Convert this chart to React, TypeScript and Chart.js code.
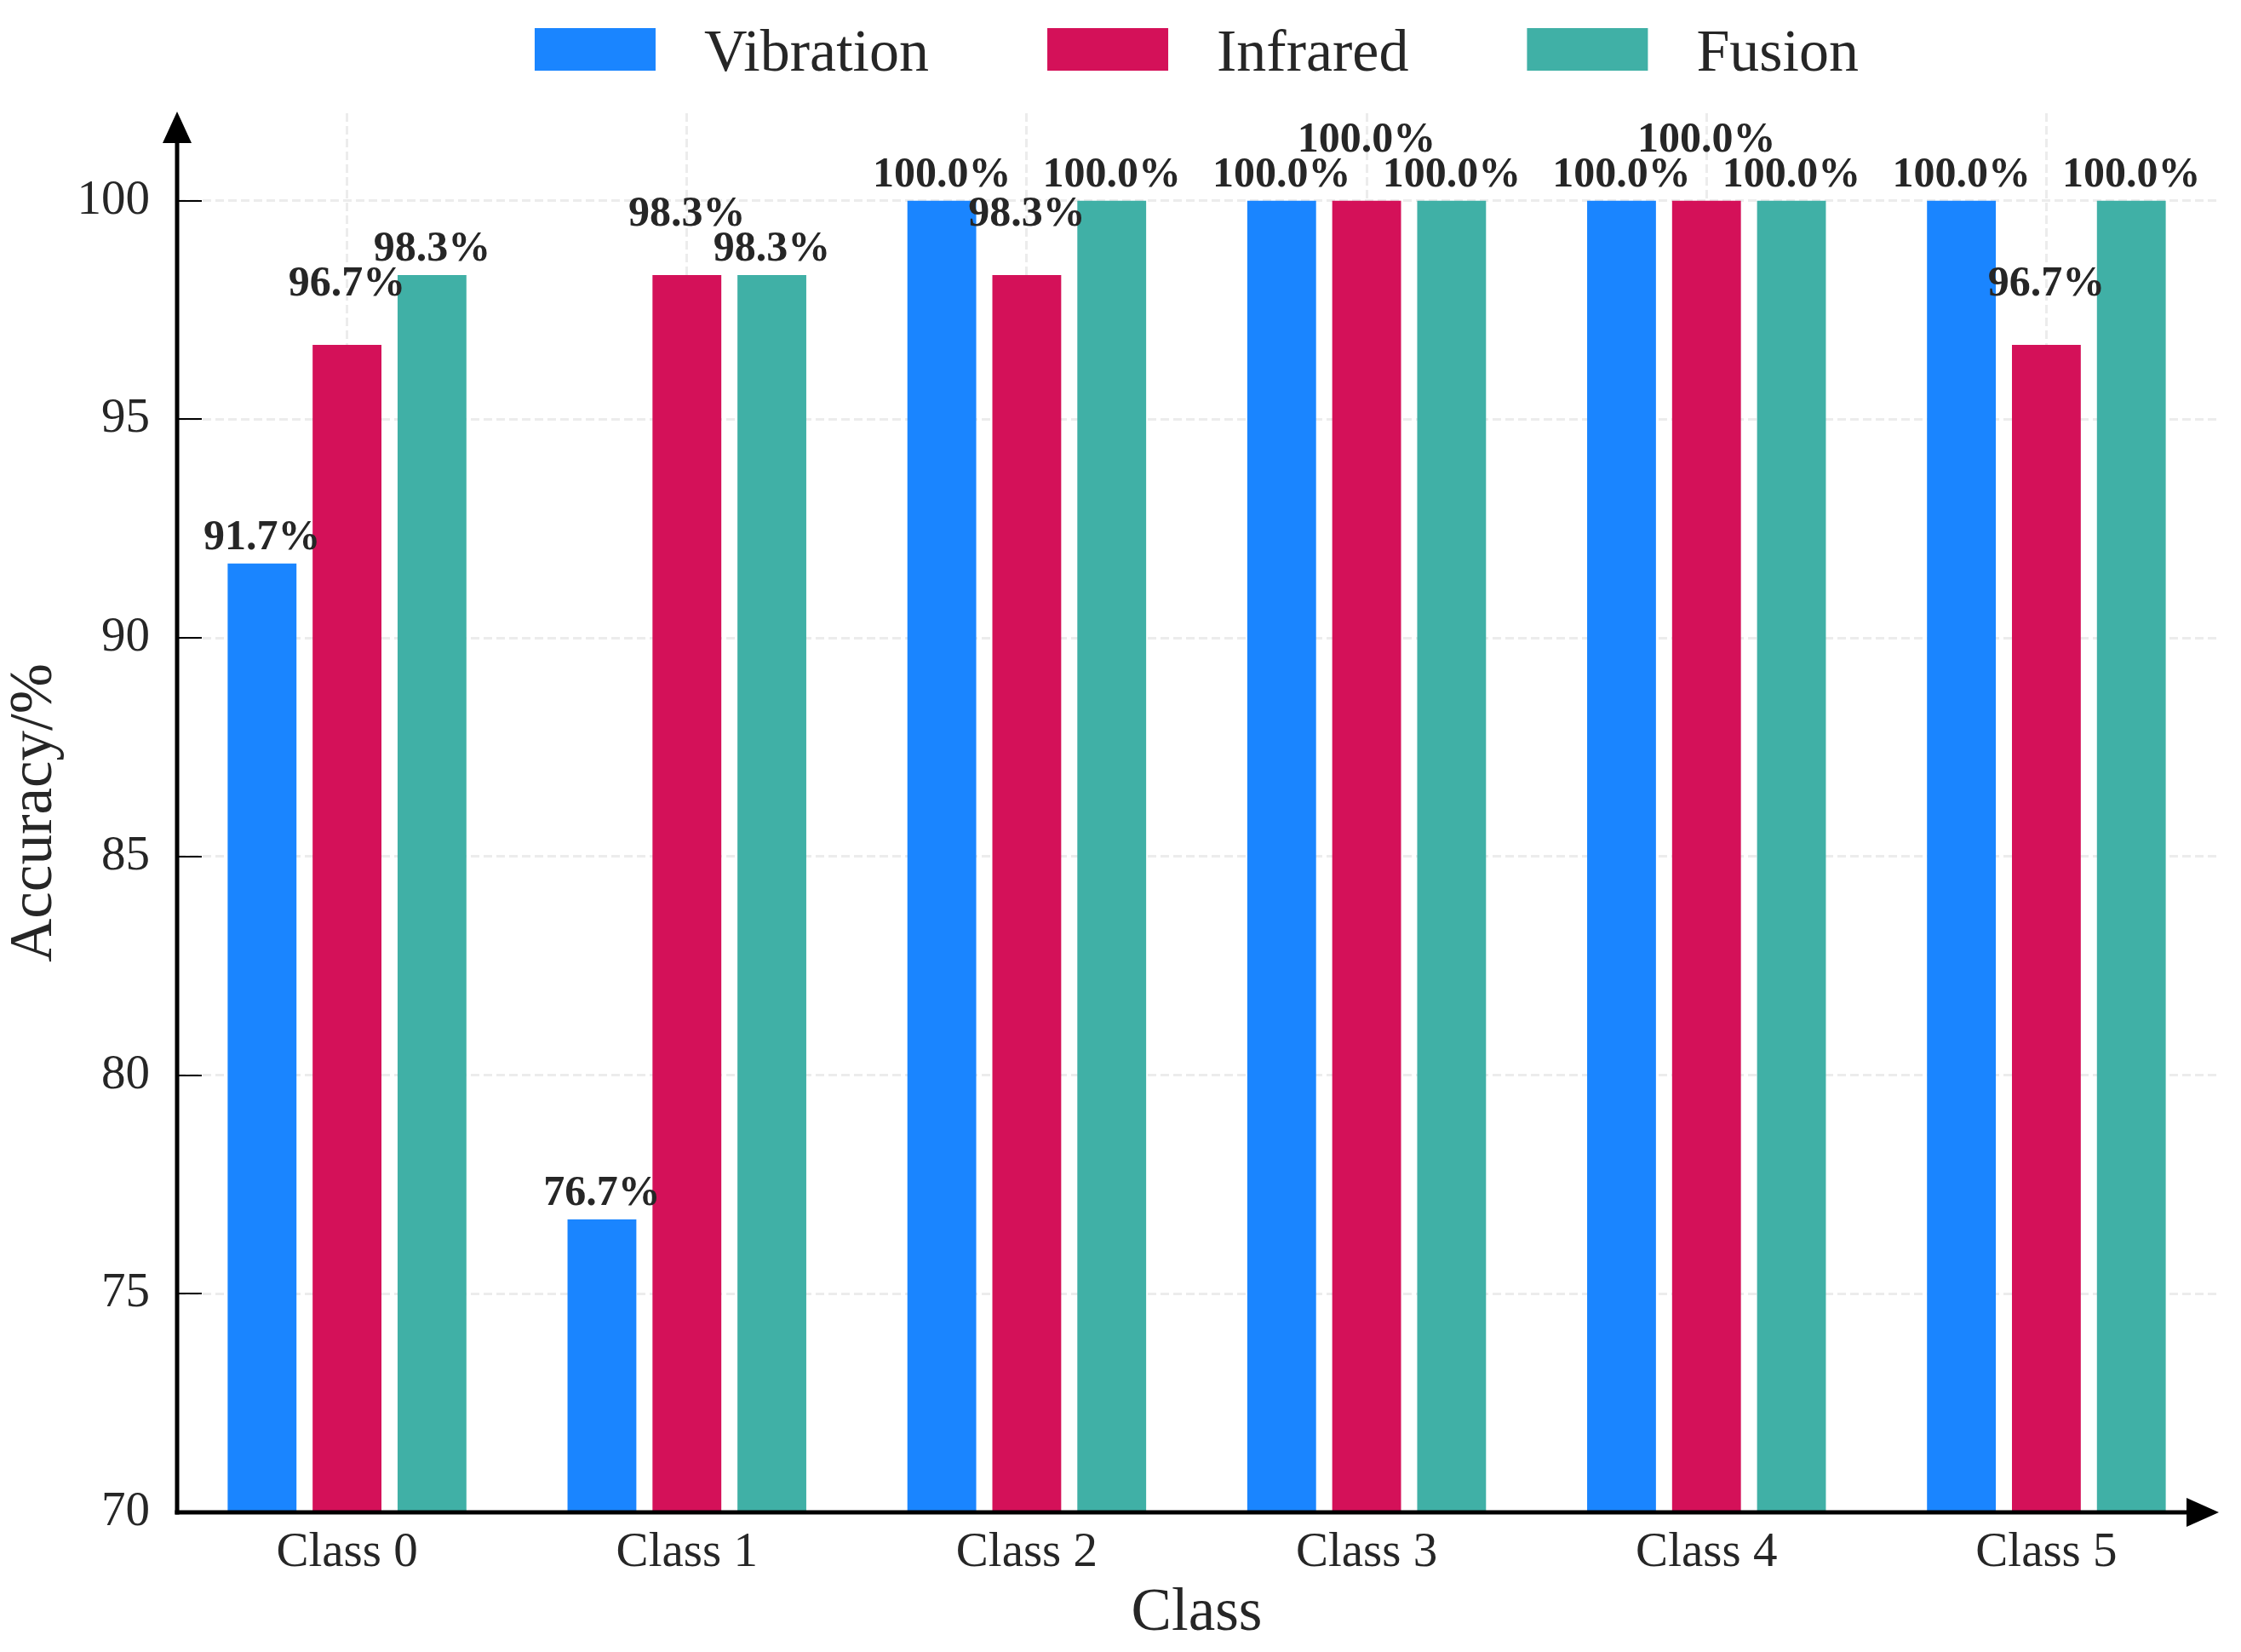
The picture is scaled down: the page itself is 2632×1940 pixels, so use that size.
import React, { useEffect, useRef } from 'react';
import { Chart, registerables } from 'chart.js';

Chart.register(...registerables);

const categories = ['Class 0', 'Class 1', 'Class 2', 'Class 3', 'Class 4', 'Class 5'];
const seriesNames = ['Vibration', 'Infrared', 'Fusion'];
const vibration = [91.7, 76.7, 100.0, 100.0, 100.0, 100.0];
const infrared = [96.7, 98.3, 98.3, 100.0, 100.0, 96.7];
const fusion = [98.3, 98.3, 100.0, 100.0, 100.0, 100.0];
const seriesColors = ['#1A85FF', '#D41159', '#40B0A6'];
const yMin = 70;
const yMax = 102;
const yStep = 5;
const xTitle = 'Class';
const yTitle = 'Accuracy/%';

const SERIF = '"Liberation Serif", "Times New Roman", serif';
const TEXT = '#262626';

const decorPlugin = {
  id: 'decor',
  afterDatasetsDraw(chart: any) {
    const ctx: CanvasRenderingContext2D = chart.ctx;
    const { left, right, top, bottom } = chart.chartArea;
    const yScale = chart.scales.y;
    ctx.save();

    // inward tick marks on the y axis
    ctx.strokeStyle = '#000';
    ctx.lineWidth = 2;
    yScale.ticks.forEach((t: any) => {
      const py = Math.round(yScale.getPixelForValue(t.value));
      ctx.beginPath();
      ctx.moveTo(left, py);
      ctx.lineTo(left + 29, py);
      ctx.stroke();
    });

    // axis lines
    ctx.lineWidth = 5;
    ctx.beginPath();
    ctx.moveTo(left, bottom + 2.5);
    ctx.lineTo(left, top + 20);
    ctx.stroke();
    ctx.beginPath();
    ctx.moveTo(left - 2.5, bottom);
    ctx.lineTo(right - 20, bottom);
    ctx.stroke();

    // arrow heads
    ctx.fillStyle = '#000';
    ctx.beginPath();
    ctx.moveTo(left, top - 2);
    ctx.lineTo(left - 17, top + 35);
    ctx.lineTo(left + 17, top + 35);
    ctx.closePath();
    ctx.fill();
    ctx.beginPath();
    ctx.moveTo(right + 3, bottom);
    ctx.lineTo(right - 35, bottom - 17);
    ctx.lineTo(right - 35, bottom + 17);
    ctx.closePath();
    ctx.fill();

    // value labels
    ctx.font = `bold 50px ${SERIF}`;
    ctx.fillStyle = TEXT;
    ctx.textAlign = 'center';
    ctx.textBaseline = 'alphabetic';
    chart.data.datasets.forEach((ds: any, i: number) => {
      const meta = chart.getDatasetMeta(i);
      meta.data.forEach((el: any, j: number) => {
        const v = ds.data[j] as number;
        ctx.fillText(v.toFixed(1) + '%', el.x, el.y - (i === 1 ? 58 : 17));
      });
    });

    // legend
    ctx.font = `70px ${SERIF}`;
    ctx.textAlign = 'left';
    const boxW = 142;
    const boxH = 50;
    const gapText = 57;
    const gapItem = 139;
    const widths = chart.data.datasets.map((ds: any) => ctx.measureText(ds.label).width);
    const total =
      widths.reduce((a: number, w: number) => a + boxW + gapText + w, 0) +
      gapItem * (widths.length - 1);
    let x = (left + right) / 2 - total / 2;
    const baseY = 83;
    chart.data.datasets.forEach((ds: any, i: number) => {
      ctx.fillStyle = ds.backgroundColor;
      ctx.fillRect(x, baseY - boxH, boxW, boxH);
      ctx.fillStyle = TEXT;
      ctx.fillText(ds.label, x + boxW + gapText, baseY);
      x += boxW + gapText + widths[i] + gapItem;
    });

    ctx.restore();
  },
};

export default function App() {
  const ref = useRef<HTMLCanvasElement>(null);

  useEffect(() => {
    document.body.style.margin = '0';
    const canvas = ref.current;
    if (!canvas) return;
    const seriesData = [vibration, infrared, fusion];
    const chart = new Chart(canvas, {
      type: 'bar',
      data: {
        labels: categories,
        datasets: seriesNames.map((name, i) => ({
          label: name,
          data: seriesData[i],
          backgroundColor: seriesColors[i],
          borderWidth: 0,
          barPercentage: 0.81,
          categoryPercentage: 0.75,
        })),
      },
      options: {
        responsive: false,
        animation: false,
        devicePixelRatio: 1,
        layout: { padding: { top: 133, right: 29, bottom: 0, left: 0 } },
        plugins: {
          legend: { display: false },
          tooltip: { enabled: false },
        },
        scales: {
          x: {
            afterFit: (s: any) => {
              s.height = 164;
            },
            grid: {
              offset: false,
              color: '#ececec',
              lineWidth: 3,
              drawTicks: false,
            },
            border: { display: false, dash: [10, 5] },
            ticks: {
              color: TEXT,
              padding: 14,
              font: { family: SERIF, size: 57 },
            },
            title: {
              display: true,
              text: xTitle,
              color: TEXT,
              font: { family: SERIF, size: 71, lineHeight: 1 },
              padding: { top: 9, bottom: 9 },
            },
          },
          y: {
            min: yMin,
            max: yMax,
            afterFit: (s: any) => {
              s.width = 208;
            },
            grid: {
              color: '#ececec',
              lineWidth: 3,
              drawTicks: false,
            },
            border: { display: false, dash: [10, 5] },
            ticks: {
              stepSize: yStep,
              includeBounds: false,
              color: TEXT,
              padding: 32,
              font: { family: SERIF, size: 57 },
            },
            title: {
              display: true,
              text: yTitle,
              color: TEXT,
              font: { family: SERIF, size: 71, lineHeight: 1 },
              padding: { top: 6, bottom: 6 },
            },
          },
        },
      },
      plugins: [decorPlugin],
    } as any);
    return () => chart.destroy();
  }, []);

  return (
    <div style={{ width: 2632, height: 1940 }}>
      <canvas
        ref={ref}
        width={2632}
        height={1940}
        style={{ display: 'block', width: '2632px', height: '1940px' }}
      />
    </div>
  );
}
